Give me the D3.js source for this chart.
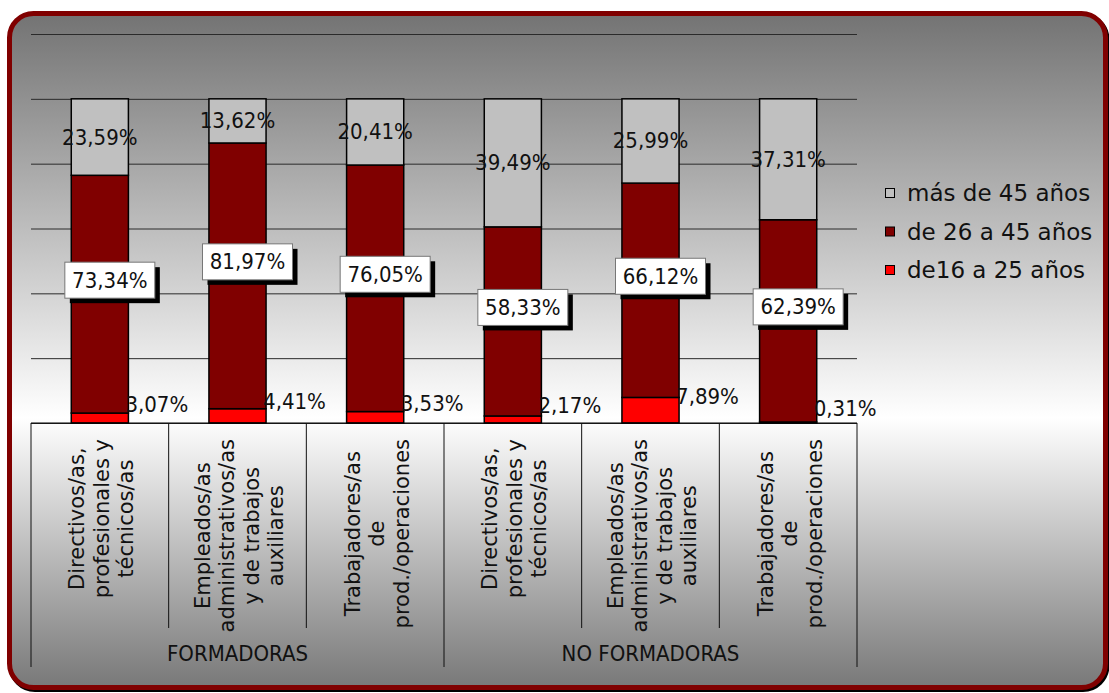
<!DOCTYPE html>
<html>
<head>
<meta charset="utf-8">
<script src="https://cdn.jsdelivr.net/npm/d3@7"></script>
<style>
  body { margin: 0; background: #fff; }
  text { font-family: "DejaVu Sans", Verdana, sans-serif; fill: #111; }
</style>
</head>
<body>
<script>
// categories (lines of each tick label) and their groups
const categoryLines = [
  ["Directivos/as,", "profesionales y", "técnicos/as"],
  ["Empleados/as", "administrativos/as", "y de trabajos", "auxiliares"],
  ["Trabajadores/as", "de", "prod./operaciones"],
  ["Directivos/as,", "profesionales y", "técnicos/as"],
  ["Empleados/as", "administrativos/as", "y de trabajos", "auxiliares"],
  ["Trabajadores/as", "de", "prod./operaciones"]
];
const groups = ["FORMADORAS", "NO FORMADORAS"];
const groupOf = [0, 0, 0, 1, 1, 1];

// series values (%)
const young = [3.07, 4.41, 3.53, 2.17, 7.89, 0.31];
const middle = [73.34, 81.97, 76.05, 58.33, 66.12, 62.39];
const older = [23.59, 13.62, 20.41, 39.49, 25.99, 37.31];

const seriesKeys = ["young", "middle", "older"];
const seriesNames = ["de16 a 25 años", "de 26 a 45 años", "más de 45 años"];
const seriesColors = ["#ff0000", "#800000", "#c0c0c0"];
const yTicks = [0, 20, 40, 60, 80, 100, 120];

const W = 1109, H = 693;
const plot = { left: 31, right: 857, top: 34, bottom: 423 };

const svg = d3.select("body").append("svg")
  .attr("width", W).attr("height", H);

// background gradient + framed rounded box
const grad = svg.append("defs").append("linearGradient")
  .attr("id", "bg").attr("x1", 0).attr("y1", 0).attr("x2", 0).attr("y2", 1);
grad.append("stop").attr("offset", "0%").attr("stop-color", "#737373");
grad.append("stop").attr("offset", "60%").attr("stop-color", "#ffffff");
grad.append("stop").attr("offset", "100%").attr("stop-color", "#787878");

svg.append("rect")
  .attr("x", 11).attr("y", 15.5).attr("width", 1096).attr("height", 674)
  .attr("rx", 24).attr("fill", "none").attr("stroke", "#000").attr("stroke-width", 5);
svg.append("rect")
  .attr("x", 9.5).attr("y", 13.5).attr("width", 1096).attr("height", 674)
  .attr("rx", 24).attr("fill", "url(#bg)").attr("stroke", "#800000").attr("stroke-width", 5);

// scales
const x = d3.scaleBand()
  .domain(d3.range(categoryLines.length))
  .range([plot.left, plot.right])
  .paddingInner(0.585)
  .paddingOuter(0.2925);
const slot = (plot.right - plot.left) / categoryLines.length;

const y = d3.scaleLinear().domain([0, 120]).range([plot.bottom, plot.top]);

// gridlines
const grid = svg.append("g")
  .attr("transform", `translate(${plot.left},0)`)
  .call(d3.axisLeft(y).tickValues(yTicks).tickSize(-(plot.right - plot.left)).tickFormat(""));
grid.select(".domain").remove();
grid.selectAll(".tick line").attr("stroke", "#2a2a2a").attr("stroke-width", 1);

// stacked bars
const rows = d3.range(categoryLines.length).map(i => ({
  i, young: young[i], middle: middle[i], older: older[i]
}));
const stacked = d3.stack().keys(seriesKeys)(rows);

const layers = svg.append("g").selectAll("g")
  .data(stacked)
  .join("g")
  .attr("fill", (d, k) => seriesColors[k]);

layers.selectAll("rect")
  .data(d => d)
  .join("rect")
  .attr("x", d => x(d.data.i))
  .attr("width", x.bandwidth())
  .attr("y", d => y(d[1]))
  .attr("height", d => y(d[0]) - y(d[1]))
  .attr("stroke", "#000")
  .attr("stroke-width", 1.5);

const fmt = v => d3.format(".2f")(v).replace(".", ",") + "%";

// top series labels: centred in segment
svg.append("g").selectAll("text")
  .data(stacked[2])
  .join("text")
  .attr("x", d => x(d.data.i) + x.bandwidth() / 2)
  .attr("y", d => (y(d[0]) + y(d[1])) / 2)
  .attr("text-anchor", "middle")
  .attr("dominant-baseline", "central")
  .style("font-family", "'DejaVu Sans Condensed', 'DejaVu Sans'")
  .style("font-size", "22px")
  .text(d => fmt(d.data.older));

// bottom series labels: to the right of the bar
svg.append("g").selectAll("text")
  .data(stacked[0])
  .join("text")
  .attr("x", d => x(d.data.i) + x.bandwidth() - 3)
  .attr("y", d => (y(d[0]) + y(d[1])) / 2 - 14)
  .attr("dominant-baseline", "central")
  .style("font-family", "'DejaVu Sans Condensed', 'DejaVu Sans'")
  .style("font-size", "22px")
  .text(d => fmt(d.data.young));

// middle series labels: white boxes with shadow
const mid = svg.append("g").selectAll("g")
  .data(stacked[1])
  .join("g")
  .attr("transform", d =>
    `translate(${x(d.data.i) + x.bandwidth() / 2 + 10},${(y(d[0]) + y(d[1])) / 2 - 14})`);
mid.append("rect")
  .attr("x", -45 + 5).attr("y", -18 + 5).attr("width", 90).attr("height", 36)
  .attr("fill", "#000");
mid.append("rect")
  .attr("x", -45).attr("y", -18).attr("width", 90).attr("height", 36)
  .attr("fill", "#fff").attr("stroke", "#777").attr("stroke-width", 1);
mid.append("text")
  .attr("text-anchor", "middle")
  .attr("dominant-baseline", "central")
  .style("font-family", "'DejaVu Sans Condensed', 'DejaVu Sans'")
  .style("font-size", "22px")
  .text(d => fmt(d.data.middle));

// category axis: table-like lines
const axisG = svg.append("g").attr("stroke", "#111").attr("stroke-width", 1);
axisG.append("line")
  .attr("x1", plot.left).attr("x2", plot.right)
  .attr("y1", plot.bottom).attr("y2", plot.bottom)
  .attr("stroke", "#000");
d3.range(categoryLines.length + 1).forEach(k => {
  const xx = plot.left + k * slot;
  const isGroupEdge = k === 0 || k === categoryLines.length || groupOf[k] !== groupOf[k - 1];
  axisG.append("line")
    .attr("x1", xx).attr("x2", xx)
    .attr("y1", plot.bottom).attr("y2", isGroupEdge ? 667 : 628);
});

// rotated category labels, lines centred, top aligned
const labelTop = 439;
const lineGap = 24.5;
categoryLines.forEach((lines, i) => {
  const cx = x(i) + x.bandwidth() / 2;
  const t = svg.append("text")
    .attr("text-anchor", "middle")
    .style("font-size", "21px");
  lines.forEach((ln, k) => {
    t.append("tspan")
      .attr("x", 0)
      .attr("y", (k - (lines.length - 1) / 2) * lineGap + 7)
      .text(ln);
  });
  const maxLen = d3.max(t.selectAll("tspan").nodes(), n => n.getComputedTextLength());
  t.attr("transform", `translate(${cx + 2},${labelTop + maxLen / 2}) rotate(-90)`);
});

// group labels
groups.forEach((g, gi) => {
  const idx = d3.range(categoryLines.length).filter(i => groupOf[i] === gi);
  const gx = plot.left + (d3.min(idx) + (idx.length) / 2) * slot;
  svg.append("text")
    .attr("x", gx).attr("y", 653)
    .attr("text-anchor", "middle")
    .attr("dominant-baseline", "central")
    .style("font-family", "'DejaVu Sans Condensed', 'DejaVu Sans'")
    .style("font-size", "22px")
    .text(g);
});

// legend (reverse order, top = más de 45 años)
const legendOrder = [2, 1, 0];
const legend = svg.append("g").selectAll("g")
  .data(legendOrder)
  .join("g")
  .attr("transform", (d, k) => `translate(885,${193 + k * 38.5})`);
legend.append("rect")
  .attr("x", 0.5).attr("y", -4.5).attr("width", 9).attr("height", 9)
  .attr("fill", d => seriesColors[d]).attr("stroke", "#000").attr("stroke-width", 1);
legend.append("text")
  .attr("x", 22).attr("y", 0)
  .attr("dominant-baseline", "central")
  .style("font-size", "23px")
  .text(d => seriesNames[d]);
</script>
</body>
</html>
